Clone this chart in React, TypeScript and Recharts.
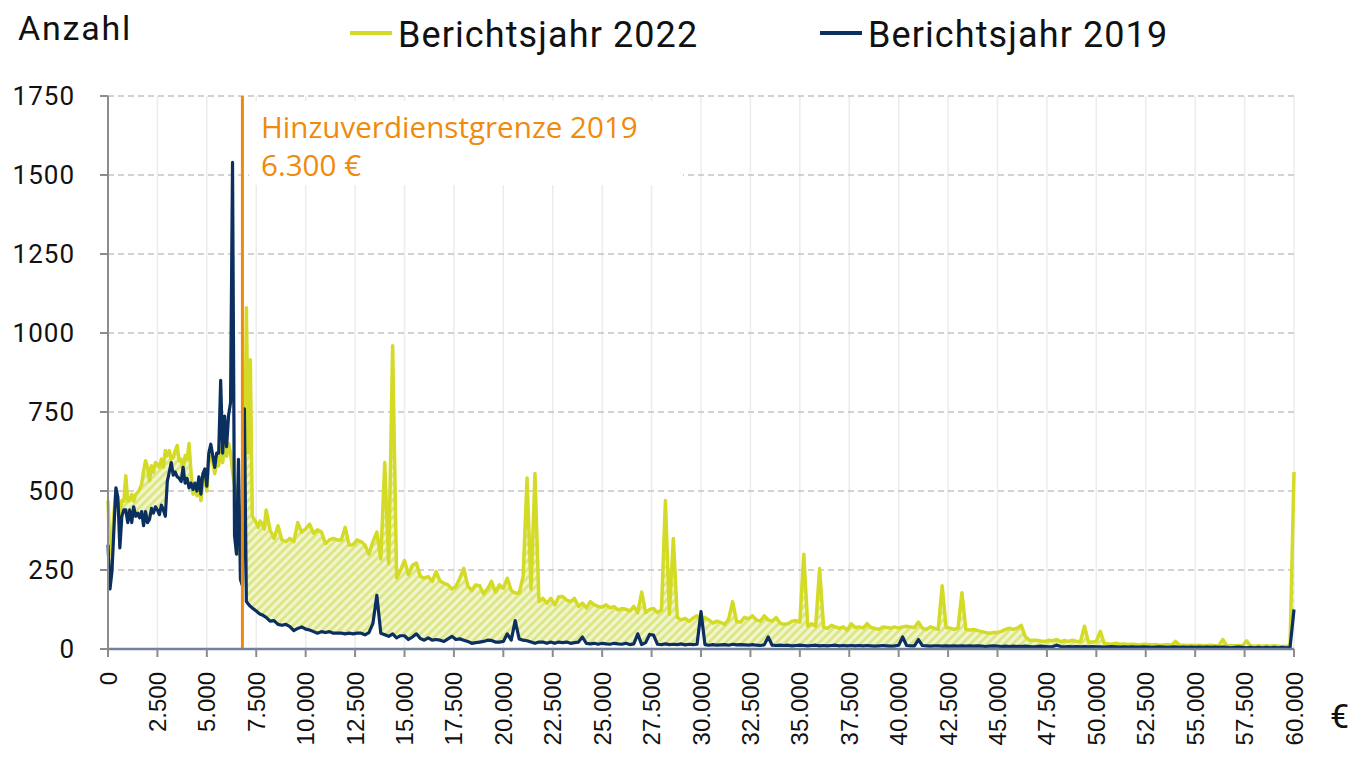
import { ComposedChart, Line, Area, XAxis, YAxis, CartesianGrid, ReferenceLine } from "recharts";

// 0 – 8.000 € in 100-€-Klassen
const lowStart = 0;
const lowStep = 100;
const low2022 = [
  470, 300, 330, 430, 500, 460, 430, 470, 468, 548,
  468, 470, 489, 468, 489, 495, 505, 521, 564, 596,
  575, 532, 580, 559, 590, 585, 575, 601, 575, 628,
  612, 628, 601, 606, 628, 644, 596, 601, 564, 612,
  600, 650, 560, 490, 510, 485, 520, 470, 530, 545,
  500, 590, 610, 590, 555, 590, 580, 640, 590, 650,
  610, 650, 620, 560, 520, 490, 300, 450, 420, 400,
  1080, 620, 915, 420, 410, 400, 385, 405, 395, 380,
  440,
];
const low2019 = [
  330, 190, 245, 380, 510, 480, 320, 420, 440, 440,
  400, 440, 400, 450, 420, 430, 415, 435, 390, 435,
  400, 410, 445, 430, 450, 440, 425, 455, 440, 420,
  530, 560, 590, 550, 560, 545, 540, 530, 575, 525,
  540, 510, 525, 505, 525, 500, 545, 490, 555, 570,
  515, 620, 648, 612, 575, 620, 620, 850, 620, 737,
  640, 740, 780, 1540, 360, 300, 600, 220, 200, 760,
  150, 142, 135, 130, 125, 120, 115, 110, 108, 104,
  100,
];

// 8.200 – 60.000 € in 200-€-Schritten
const highStart = 8200;
const highStep = 200;
const high2022 = [
  377, 350, 390, 345, 340, 350, 340, 400, 370, 380,
  395, 366, 377, 370, 334, 345, 350, 345, 345, 385,
  329, 330, 345, 340, 329, 300, 340, 370, 285, 590,
  270, 960, 225, 250, 280, 235, 265, 272, 230, 224,
  229, 214, 245, 215, 208, 203, 190, 198, 224, 255,
  200, 185, 203, 200, 175, 190, 214, 180, 203, 192,
  224, 185, 177, 177, 230, 541, 190, 555, 150, 160,
  145, 160, 140, 165, 166, 155, 150, 160, 135, 145,
  130, 150, 140, 135, 132, 140, 130, 134, 124, 128,
  126, 120, 135, 115, 180, 115, 125, 128, 115, 124,
  470, 110, 350, 100, 92, 97, 87, 98, 105, 90,
  100, 92, 82, 88, 84, 78, 95, 150, 87, 85,
  100, 95, 105, 92, 88, 105, 92, 88, 100, 82,
  78, 80, 88, 90, 85, 300, 72, 80, 72, 255,
  70, 65, 75, 70, 65, 70, 60, 80, 68, 70,
  66, 80, 68, 65, 62, 70, 68, 66, 70, 66,
  70, 72, 70, 68, 85, 66, 62, 70, 66, 62,
  200, 68, 66, 62, 66, 178, 62, 60, 62, 58,
  55, 52, 50, 52, 52, 56, 62, 66, 62, 66,
  75, 40, 28, 28, 28, 25, 24, 28, 26, 30,
  23, 27, 24, 28, 24, 24, 72, 22, 22, 24,
  56, 18, 16, 16, 18, 15, 16, 14, 15, 14,
  13, 15, 14, 13, 14, 12, 13, 14, 12, 24,
  13, 12, 11, 12, 11, 12, 10, 11, 12, 10,
  11, 30, 10, 11, 10, 11, 10, 26, 10, 9,
  10, 9, 10, 9, 10, 9, 8, 9, 8, 560,
];
const high2019 = [
  88, 90, 78, 75, 78, 71, 58, 65, 70, 63,
  60, 55, 50, 55, 52, 55, 50, 50, 50, 48,
  50, 48, 50, 50, 45, 52, 80, 170, 50, 45,
  40, 48, 35, 42, 42, 30, 38, 48, 33, 28,
  35, 28, 30, 28, 24, 32, 40, 30, 32, 28,
  24, 18, 20, 22, 24, 28, 27, 22, 22, 24,
  48, 28, 90, 32, 28, 26, 22, 18, 22, 22,
  18, 22, 18, 22, 20, 22, 18, 20, 22, 38,
  18, 16, 18, 15, 18, 16, 15, 18, 16, 15,
  18, 14, 16, 48, 14, 20, 46, 44, 15, 14,
  16, 14, 15, 14, 16, 13, 15, 14, 15, 118,
  14, 12, 14, 12, 13, 14, 12, 15, 13, 14,
  13, 12, 14, 12, 11, 13, 38, 12, 11, 12,
  11, 12, 10, 11, 12, 11, 10, 11, 12, 10,
  11, 10, 11, 12, 10, 11, 10, 11, 10, 11,
  10, 11, 10, 9, 10, 11, 10, 9, 10, 12,
  38, 11, 10, 10, 30, 11, 10, 9, 10, 10,
  9, 10, 9, 10, 9, 10, 9, 10, 9, 10,
  9, 8, 9, 10, 9, 8, 9, 8, 9, 8,
  8, 9, 8, 7, 8, 9, 8, 7, 8, 12,
  8, 7, 8, 7, 8, 7, 8, 7, 8, 7,
  7, 6, 7, 8, 7, 6, 7, 6, 7, 6,
  6, 7, 6, 5, 6, 7, 6, 5, 6, 7,
  5, 6, 5, 6, 5, 6, 5, 6, 5, 6,
  5, 6, 5, 4, 5, 6, 5, 4, 5, 4,
  5, 4, 5, 4, 5, 4, 5, 4, 5, 125,
];

const xTicks = [
  0, 2500, 5000, 7500, 10000, 12500, 15000, 17500, 20000, 22500, 25000, 27500, 30000,
  32500, 35000, 37500, 40000, 42500, 45000, 47500, 50000, 52500, 55000, 57500, 60000,
];
const yTicks = [0, 250, 500, 750, 1000, 1250, 1500, 1750];
const seriesNames = ["Berichtsjahr 2022", "Berichtsjahr 2019"];
const limitEuro = 6800; // Lage der Linie im Original
const limitLabel = ["Hinzuverdienstgrenze 2019", "6.300 €"];

const C2022 = "#d3db27";
const C2019 = "#0b2f5f";
const ORANGE = "#f08a0c";

const rows = [
  ...low2022.map((v, i) => ({ euro: lowStart + i * lowStep, y2022: v, y2019: low2019[i] })),
  ...high2022.map((v, i) => ({ euro: highStart + i * highStep, y2022: v, y2019: high2019[i] })),
];

const fmt = (v: number) => String(v).replace(/\B(?=(\d{3})+(?!\d))/g, ".");

function XTick({ x, y, payload }: any) {
  return (
    <text
      transform={`translate(${x},${y + 13}) rotate(-90)`}
      textAnchor="end"
      dominantBaseline="central"
      fontFamily="Liberation Sans"
      fontSize={24}
      fill="#111"
    >
      {fmt(payload.value)}
    </text>
  );
}

export default function App() {
  return (
    <div style={{ position: "absolute", left: 0, top: 0, width: 1366, height: 765, background: "#fff" }}>
      <div style={{ position: "absolute", left: 0, top: 0 }}>
        <ComposedChart width={1366} height={765} data={rows} margin={{ top: 96, right: 72, bottom: 0, left: 0 }}>
          <CartesianGrid horizontal={false} stroke="#ececec" strokeWidth={1.5} />
          <CartesianGrid vertical={false} stroke="#c4c4c4" strokeDasharray="6 4" strokeWidth={1.5} />
          <XAxis
            dataKey="euro"
            type="number"
            domain={[0, 60000]}
            ticks={xTicks}
            interval={0}
            height={116}
            tick={<XTick />}
            tickSize={8}
            axisLine={{ stroke: "#71829a", strokeWidth: 2.5 }}
            tickLine={{ stroke: "#8c8c8c", strokeWidth: 2 }}
          />
          <YAxis
            type="number"
            domain={[0, 1750]}
            ticks={yTicks}
            interval={0}
            width={108}
            tickSize={8}
            tickMargin={25}
            axisLine={{ stroke: "#8c8c8c", strokeWidth: 2 }}
            tickLine={{ stroke: "#8c8c8c", strokeWidth: 2 }}
            tick={{ fontFamily: "Roboto", fontSize: 26, fill: "#111", letterSpacing: 1 }}
          />
          <Area
            type="linear"
            dataKey={(d: any) => [d.y2019, Math.max(d.y2019, d.y2022)]}
            stroke="none"
            fill="url(#hatch)"
            fillOpacity={1}
            isAnimationActive={false}
          />
          <Line
            type="linear"
            dataKey="y2022"
            stroke={C2022}
            strokeWidth={3.5}
            dot={false}
            strokeLinejoin="round"
            isAnimationActive={false}
          />
          <Line
            type="linear"
            dataKey="y2019"
            stroke={C2019}
            strokeWidth={3.2}
            dot={false}
            strokeLinejoin="round"
            isAnimationActive={false}
          />
          <ReferenceLine x={limitEuro} stroke={ORANGE} strokeWidth={3} />
        </ComposedChart>
      </div>
      <svg width={1366} height={765} style={{ position: "absolute", left: 0, top: 0, pointerEvents: "none" }}>
        <defs>
          <pattern id="hatch" patternUnits="userSpaceOnUse" width={6} height={6} patternTransform="rotate(45)">
            <rect width={6} height={6} fill="#f1f5cc" />
            <line x1={1.5} y1={0} x2={1.5} y2={6} stroke="#d9e47c" strokeWidth={2.5} />
          </pattern>
        </defs>
        <text x={18} y={40} fontFamily="Roboto" fontSize={34} letterSpacing={1.8} fill="#111">
          Anzahl
        </text>
        <rect x={350} y={31} width={42} height={4} fill={C2022} />
        <text x={398} y={47} fontFamily="Roboto" fontSize={36} letterSpacing={1.1} fill="#111">
          {seriesNames[0]}
        </text>
        <rect x={820} y={31} width={42} height={4} fill={C2019} />
        <text x={868} y={47} fontFamily="Roboto" fontSize={36} letterSpacing={1.1} fill="#111">
          {seriesNames[1]}
        </text>
        <rect x={249} y={101} width={434} height={84} fill="#fff" />
        <text x={261} y={138} fontFamily="Open Sans" fontSize={29.6} fill={ORANGE}>
          {limitLabel[0]}
        </text>
        <text x={261} y={176} fontFamily="Open Sans" fontSize={29.6} fill={ORANGE}>
          {limitLabel[1]}
        </text>
        <text x={1330} y={728} fontFamily="Roboto" fontSize={34} fill="#111">
          €
        </text>
      </svg>
    </div>
  );
}
